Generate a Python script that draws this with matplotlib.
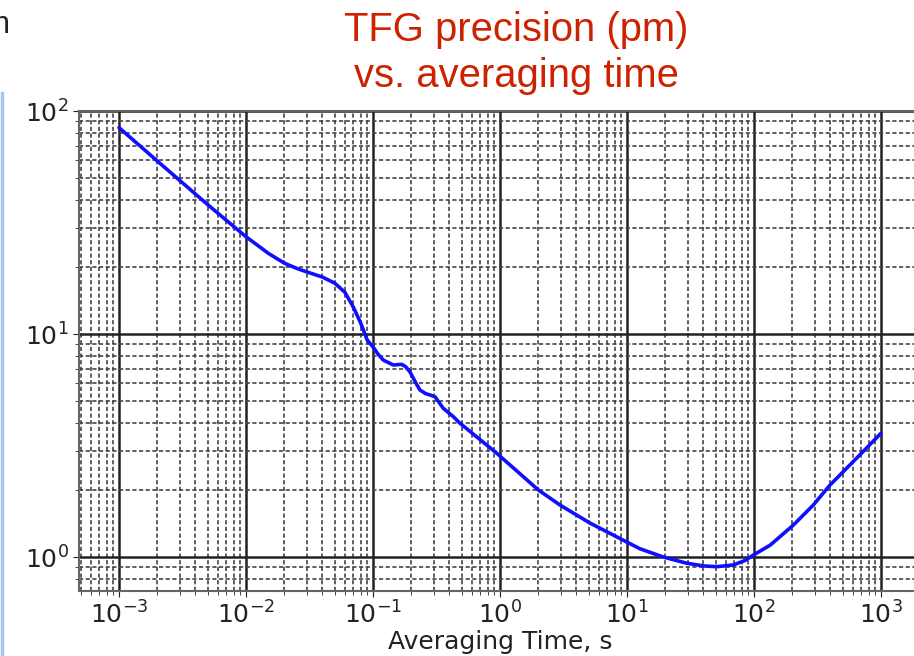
import matplotlib
matplotlib.use("Agg")
import matplotlib.pyplot as plt
from matplotlib.ticker import LogLocator, NullFormatter
from matplotlib.lines import Line2D

# averaging time (s) and precision (pm)
tau = [1e-3, 2e-3, 5e-3, 1e-2, 1.5e-2, 2e-2, 2.5e-2, 3e-2, 4e-2, 5e-2, 6e-2, 7e-2,
       8e-2, 9e-2, 0.1, 0.11, 0.1205, 0.1445, 0.168, 0.18, 0.195, 0.215, 0.234,
       0.26, 0.281, 0.308, 0.33, 0.358, 0.429, 0.484, 0.942, 2.0, 2.97, 5.11,
       8.81, 12.6, 19.3, 29.5, 40.0, 50.8, 68.7, 85.0, 98.7, 134, 204, 293, 396,
       605, 800, 1000]
precision = [84.2, 59.7, 38.0, 27.3, 23.0, 20.8, 19.7, 19.0, 18.0, 16.9, 15.4, 13.2,
             11.2, 9.4, 8.75, 8.1, 7.64, 7.26, 7.31, 7.15, 6.78, 6.1, 5.61,
             5.4, 5.33, 5.23, 4.95, 4.64, 4.26, 3.98, 2.92, 2.0, 1.71, 1.42,
             1.21, 1.09, 1.0, 0.938, 0.912, 0.905, 0.921, 0.965, 1.02, 1.13, 1.39,
             1.71, 2.10, 2.68, 3.15, 3.59]

xticks = [1e-3, 1e-2, 1e-1, 1e0, 1e1, 1e2, 1e3]
yticks = [1e0, 1e1, 1e2]

W, H = 914, 656
fig = plt.figure(figsize=(W / 100, H / 100), dpi=100)
fig.patch.set_facecolor("white")

ax = fig.add_axes([79 / W, 65 / H, 842 / W, 480 / H])
ax.plot(tau, precision, color="#1010ff", lw=2.6, zorder=3,
        solid_joinstyle="round", solid_capstyle="round")
ax.set_xscale("log")
ax.set_yscale("log")
ax.set_xlim(10 ** -3.315, 10 ** 3.315)
ax.set_ylim(0.704, 100)

ax.set_xticks(xticks)
ax.set_yticks(yticks)
ax.xaxis.set_minor_locator(LogLocator(base=10, subs=range(2, 10), numticks=50))
ax.yaxis.set_minor_locator(LogLocator(base=10, subs=range(2, 10), numticks=50))
ax.xaxis.set_minor_formatter(NullFormatter())
ax.yaxis.set_minor_formatter(NullFormatter())

ax.grid(True, which="major", color="#222222", lw=1.8, ls="-")
ax.grid(True, which="minor", color="#444444", lw=1.2, ls=(0, (2.5, 1.5)))
ax.tick_params(which="both", labelsize=18, color="#222222", labelcolor="#222222")
ax.tick_params(which="major", length=4)
ax.tick_params(which="minor", length=3)
for s in ax.spines.values():
    s.set_color("#666666")
    s.set_linewidth(1.5)

ax.set_xlabel("Averaging Time, s", fontsize=18, color="#222222", labelpad=1)

fig.text(516 / W, 1 - 30 / H, "TFG precision (pm)", ha="center", va="center",
         fontsize=28.8, color="#cc2200", family="Liberation Sans")
fig.text(516 / W, 1 - 76 / H, "vs. averaging time", ha="center", va="center",
         fontsize=28.8, color="#cc2200", family="Liberation Sans")

fig.text(10 / W, 1 - 25 / H, "n", ha="right", va="center", fontsize=22,
         color="#222222", family="Liberation Sans")

fig.add_artist(Line2D([1.5 / W, 1.5 / W], [0, 1 - 93 / H], color="#a9c6f5", lw=2.5))

fig.savefig("out.png", dpi=100)
